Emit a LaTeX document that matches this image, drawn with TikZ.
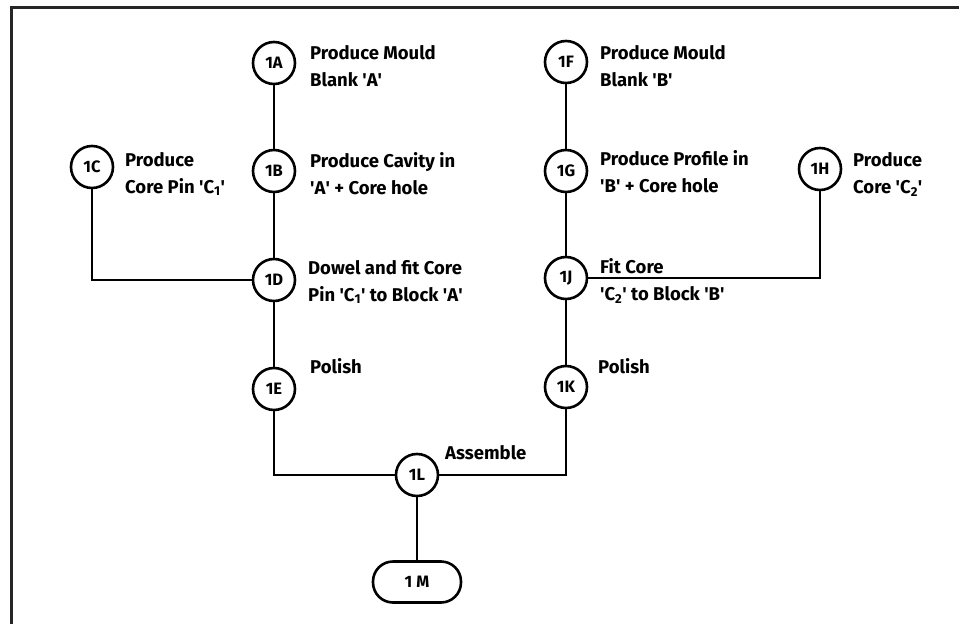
\documentclass[tikz,border=0pt]{standalone}
\usepackage{fontspec}
\setmainfont{Fira Sans}
\newcommand{\qt}{\textquotesingle}
\begin{document}
\begin{tikzpicture}[x=1pt,y=-1pt,
  opnode/.style={draw, circle, line width=2.6pt, minimum size=42pt, inner sep=0pt,
    font=\fontsize{16.5}{16.5}\selectfont\bfseries},
  endnode/.style={draw, rectangle, rounded corners=20pt, line width=2.6pt,
    minimum width=88pt, minimum height=41pt, inner sep=0pt,
    font=\fontsize{16.5}{16.5}\selectfont\bfseries},
  lbl/.style={anchor=west, align=left, inner sep=0pt,
    font=\fontsize{18.5}{27}\selectfont\bfseries},
  conn/.style={line width=2.2pt},
  frameline/.style={line width=3pt, draw=black!85}]
\useasboundingbox (0,0) rectangle (959,624);
\draw[frameline] (11,624) -- (11,7) -- (959,7);

% process nodes
\node[opnode] (A) at (274,63)  {1A};
\node[opnode] (B) at (274,171) {1B};
\node[opnode] (C) at (92,167)  {1C};
\node[opnode] (D) at (274,280) {1D};
\node[opnode] (E) at (274,389) {1E};
\node[opnode] (F) at (566,62)  {1F};
\node[opnode] (G) at (566,171) {1G};
\node[opnode] (H) at (820,169) {1H};
\node[opnode] (J) at (566,278) {1J};
\node[opnode] (K) at (566,387) {1K};
\node[opnode] (L) at (417,475) {1L};
\node[endnode] (M) at (417,582) {1 M};

% labels
\node[lbl] (tA) at (310,66)  {Produce Mould\\Blank \qt A\qt};
\node[lbl] (tB) at (310,174) {Produce Cavity in\\\qt A\qt{} + Core hole};
\node[lbl] (tC) at (125,174) {Produce\\Core Pin \qt C\textsubscript{1}\qt};
\node[lbl] (tD) at (308,282) {Dowel and fit Core\\Pin \qt C\textsubscript{1}\qt{} to Block \qt A\qt};
\node[lbl] (tE) at (310,366) {Polish};
\node[lbl] (tF) at (600,66)  {Produce Mould\\Blank \qt B\qt};
\node[lbl] (tG) at (600,172) {Produce Profile in\\\qt B\qt{} + Core hole};
\node[lbl] (tH) at (853,174) {Produce\\Core \qt C\textsubscript{2}\qt};
\node[lbl] (tJ) at (600,281) {Fit Core\\\qt C\textsubscript{2}\qt{} to Block \qt B\qt};
\node[lbl] (tK) at (598,366) {Polish};
\node[lbl] (tL) at (445,453) {Assemble};

% connectors
\draw[conn] (A) -- (B);
\draw[conn] (B) -- (D);
\draw[conn] (D) -- (E);
\draw[conn] (C) |- (D);
\draw[conn] (E) |- (L);
\draw[conn] (F) -- (G);
\draw[conn] (G) -- (J);
\draw[conn] (J) -- (K);
\draw[conn] (H) |- (J);
\draw[conn] (K) |- (L);
\draw[conn] (L) -- (M);
\end{tikzpicture}
\end{document}
